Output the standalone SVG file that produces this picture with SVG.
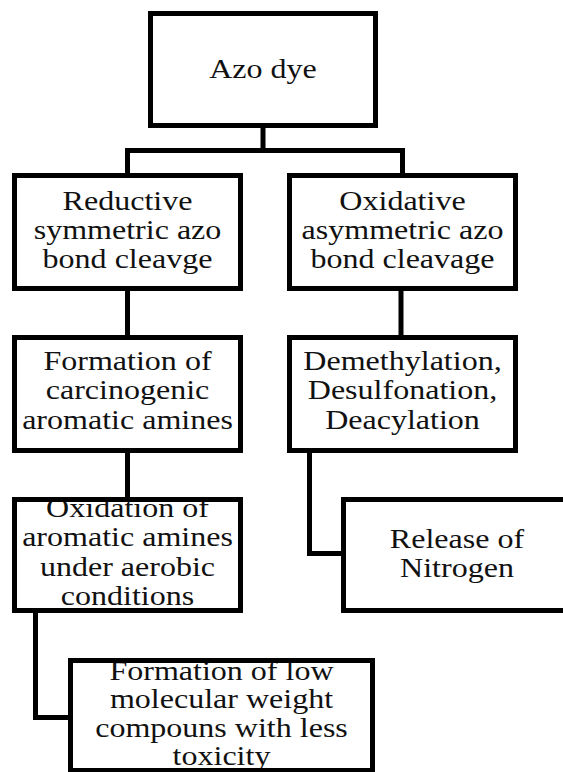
<svg xmlns="http://www.w3.org/2000/svg" width="563" height="772" viewBox="0 0 563 772">
<style>
.box{fill:none;stroke:#000;stroke-width:5}
.conn{fill:none;stroke:#000;stroke-width:5;stroke-linejoin:miter}
.t{font-family:"Liberation Serif","Times New Roman",serif;font-size:27.5px;fill:#111;text-anchor:middle}
</style>
<rect width="563" height="772" fill="#fff"/>
<g id="connectors">
<path class="conn" d="M263 126 V150.5"/>
<path class="conn" d="M127.5 175.5 V150.5 H402.5 V175.5"/>
<path class="conn" d="M127.5 288.5 V337.5"/>
<path class="conn" d="M401 288.5 V337.5"/>
<path class="conn" d="M127.5 450.5 V499.5"/>
<path class="conn" d="M309.5 450.5 V553.5 H343.5"/>
<path class="conn" d="M35.5 610.5 V717.5 H70.5"/>
</g>
<g id="azo-dye">
<text class="t" transform="translate(263,0) scale(1.165,1)"><tspan x="0" y="78">Azo dye</tspan></text>
<rect class="box" x="150.5" y="13.5" width="225" height="112"/>
</g>
<g id="reductive">
<text class="t" transform="translate(127.5,0) scale(1.165,1)"><tspan x="0" y="210">Reductive</tspan><tspan x="0" y="239">symmetric azo</tspan><tspan x="0" y="268">bond cleavge</tspan></text>
<rect class="box" x="14.5" y="175.5" width="226" height="113"/>
</g>
<g id="oxidative">
<text class="t" transform="translate(402.5,0) scale(1.165,1)"><tspan x="0" y="210">Oxidative</tspan><tspan x="0" y="239">asymmetric azo</tspan><tspan x="0" y="268">bond cleavage</tspan></text>
<rect class="box" x="289.5" y="175.5" width="226" height="113"/>
</g>
<g id="carcinogenic">
<text class="t" transform="translate(127.5,0) scale(1.165,1)"><tspan x="0" y="370">Formation of</tspan><tspan x="0" y="399.5">carcinogenic</tspan><tspan x="0" y="429">aromatic amines</tspan></text>
<rect class="box" x="14.5" y="337.5" width="226" height="113"/>
</g>
<g id="demethylation">
<text class="t" transform="translate(402.5,0) scale(1.165,1)"><tspan x="0" y="370">Demethylation,</tspan><tspan x="0" y="399.5">Desulfonation,</tspan><tspan x="0" y="429">Deacylation</tspan></text>
<rect class="box" x="289.5" y="337.5" width="226" height="113"/>
</g>
<g id="oxidation">
<text class="t" transform="translate(127.5,0) scale(1.165,1)"><tspan x="0" y="517">Oxidation of</tspan><tspan x="0" y="546.5">aromatic amines</tspan><tspan x="0" y="576">under aerobic</tspan><tspan x="0" y="605">conditions</tspan></text>
<rect class="box" x="14.5" y="499.5" width="226" height="111"/>
</g>
<g id="nitrogen">
<text class="t" transform="translate(457,0) scale(1.165,1)"><tspan x="0" y="548">Release of</tspan><tspan x="0" y="577">Nitrogen</tspan></text>
<rect class="box" x="343.5" y="499.5" width="232" height="111"/>
</g>
<g id="low-weight">
<text class="t" transform="translate(221.5,0) scale(1.165,1)"><tspan x="0" y="680">Formation of low</tspan><tspan x="0" y="708.5">molecular weight</tspan><tspan x="0" y="737">compouns with less</tspan><tspan x="0" y="765">toxicity</tspan></text>
<rect class="box" x="70.5" y="660.5" width="302" height="110"/>
</g>
</svg>
